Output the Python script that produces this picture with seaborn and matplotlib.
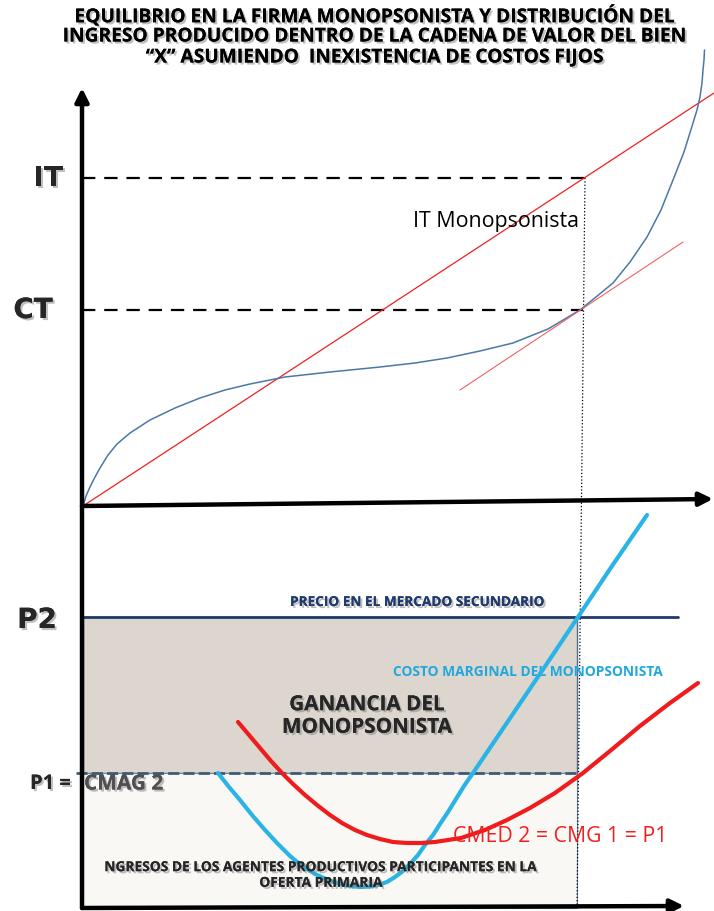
import matplotlib
matplotlib.use("Agg")
import matplotlib.pyplot as plt
import matplotlib.patheffects as pe
from matplotlib.patches import Rectangle
import seaborn as sns

# diagram, in picture units (x to the right, y downwards)
origin_x = 82
top_origin_y = 506
bottom_origin_y = 908
it_level = 178
ct_level = 310
q_star_top = 585
q_star_bottom = 577
p2_level = 617
p1_level = 773

# upper panel: total cost curve (IT Monopsonista) and revenue line
cost_x = [83, 86, 90, 95, 100, 108, 117, 130, 150, 175, 200, 225, 250, 285, 330, 380, 415, 447, 480,
          513, 548, 580, 596, 613, 630, 647, 661, 673, 684, 693, 697, 700, 702, 703, 704, 704.5]
cost_y = [506, 496, 487, 477, 468, 455, 444, 433, 420, 408, 398, 390, 384, 377, 372, 367, 363, 358, 351,
          343, 329, 310, 297, 283, 262, 237, 210, 180, 152, 123, 110, 97, 83, 70, 60, 50]
revenue_x = [83, 714]
revenue_y = [506, 93]
tangent_x = [460, 683]
tangent_y = [390, 242]

# lower panel: marginal cost and average cost curves
cmg_x = [218, 229, 240, 252, 265, 277, 290, 302, 315, 328, 340, 350, 360, 370, 378, 387, 395, 403, 410,
         418, 425, 433, 440, 448, 456, 464, 473, 498, 523, 550, 578, 612, 647]
cmg_y = [773, 787, 800, 815, 830, 843, 856, 866, 874, 880, 884, 886, 887, 886.5, 885, 882, 877, 871, 864,
         855, 845, 835, 824, 812, 799, 786, 773, 736, 699, 659, 617, 566, 515]
cmed_x = [238, 249, 260, 271, 282, 293, 305, 317, 330, 342, 355, 367, 380, 393, 407, 421, 435, 448, 461,
          473, 485, 496, 507, 530, 555, 583, 610, 640, 670, 698]
cmed_y = [722, 735, 748, 761, 773, 784, 795, 805, 815, 823, 830, 835, 839, 842, 843, 843, 842, 840, 838,
          834, 830, 825, 820, 808, 793, 773, 751, 726, 703, 683]

title_lines = [
    "EQUILIBRIO EN LA FIRMA MONOPSONISTA Y DISTRIBUCIÓN DEL",
    "INGRESO PRODUCIDO DENTRO DE LA CADENA DE VALOR DEL BIEN",
    "\u201cX\u201d ASUMIENDO  INEXISTENCIA DE COSTOS FIJOS",
]
title_y = [16.5, 36.5, 57.5]

sns.set_theme(style="white")
plt.rcParams["font.family"] = ["Open Sans", "DejaVu Sans"]

fig = plt.figure(figsize=(7.14, 9.11), dpi=100)
ax = fig.add_axes([0, 0, 1, 1])
ax.set_xlim(0, 714)
ax.set_ylim(911, 0)
ax.axis("off")

shadow = [pe.withSimplePatchShadow(offset=(1.5, -1.5), shadow_rgbFace="gray", alpha=0.5), pe.Normal()]

# shaded areas in the lower panel
ax.add_patch(Rectangle((origin_x + 1, p2_level), q_star_bottom - origin_x - 1, p1_level - p2_level,
                       facecolor="#ddd6ce", edgecolor="#4f6b8a", lw=1, zorder=1))
ax.add_patch(Rectangle((origin_x + 1, p1_level), q_star_bottom - origin_x - 1, bottom_origin_y - p1_level,
                       facecolor="#faf8f5", edgecolor="#6d86a3", lw=0.8, zorder=1))

# reference lines
ax.plot([origin_x, q_star_top], [it_level, it_level], color="black", lw=1.6, dashes=(6, 4), zorder=2)
ax.plot([origin_x, q_star_top - 2], [ct_level, ct_level], color="black", lw=1.6, dashes=(6, 4), zorder=2)
ax.plot([q_star_top, q_star_bottom], [it_level, bottom_origin_y], color="black", lw=0.9, ls=":", zorder=2)
ax.plot([origin_x, 678], [p2_level, p2_level], color="#1f3a6b", lw=2, zorder=2)
ax.plot([origin_x - 6, q_star_bottom], [p1_level, p1_level], color="#3f5a78", lw=2, dashes=(4, 1.5), zorder=2)

# curves
sns.lineplot(x=revenue_x, y=revenue_y, ax=ax, color="#f02020", lw=0.9, sort=False, estimator=None, zorder=3)
sns.lineplot(x=cost_x, y=cost_y, ax=ax, color="#4a78a8", lw=1.1, sort=False, estimator=None, zorder=3)
sns.lineplot(x=tangent_x, y=tangent_y, ax=ax, color="#f26060", lw=0.8, sort=False, estimator=None, zorder=3)
sns.lineplot(x=cmg_x, y=cmg_y, ax=ax, color="#2ab4e6", lw=3, sort=False, estimator=None, zorder=4)
sns.lineplot(x=cmed_x, y=cmed_y, ax=ax, color="#ee1c1c", lw=3, sort=False, estimator=None, zorder=4)

# axes with arrows
arrow = dict(arrowstyle="-|>", color="black", lw=3.2, mutation_scale=20, shrinkA=0, shrinkB=0)
ax.annotate("", xy=(origin_x, 88), xytext=(origin_x, bottom_origin_y), arrowprops=arrow, zorder=5)
ax.annotate("", xy=(713, 499), xytext=(origin_x, top_origin_y), arrowprops=arrow, zorder=5)
ax.annotate("", xy=(684, 906), xytext=(origin_x, bottom_origin_y), arrowprops=arrow, zorder=5)

# title
for line, y in zip(title_lines, title_y):
    ax.text(375, y, line, ha="center", va="center", fontsize=13.8,
            fontweight="bold", color="black", path_effects=shadow)

# axis labels
ax.text(48, it_level, "IT", ha="center", va="center", fontsize=20, fontweight="heavy",
        family=["DejaVu Sans"], path_effects=shadow)
ax.text(33, ct_level, "CT", ha="center", va="center", fontsize=20, fontweight="heavy",
        family=["DejaVu Sans"], path_effects=shadow)
ax.text(37, p2_level + 3, "P2", ha="center", va="center", fontsize=20, fontweight="heavy",
        family=["DejaVu Sans"], path_effects=shadow)
ax.text(71, 784, "P1 =", ha="right", va="center", fontsize=14.5, fontweight="bold", path_effects=shadow)
ax.text(84, 784, "CMAG 2", ha="left", va="center", fontsize=15, fontweight="bold", color="#505050",
        path_effects=shadow)

# annotations
ax.text(413, 222, "IT Monopsonista", ha="left", va="center", fontsize=15.4, color="black")
ax.text(417, 602, "PRECIO EN EL MERCADO SECUNDARIO", ha="center", va="center", fontsize=9.8,
        fontweight="bold", color="#1f3a6b", path_effects=shadow)
ax.text(528, 672, "COSTO MARGINAL DEL MONOPSONISTA", ha="center", va="center", fontsize=9.9,
        fontweight="bold", color="#1fa8dd", zorder=3)
ax.text(367, 716, "GANANCIA DEL\nMONOPSONISTA", ha="center", va="center", fontsize=14.9,
        fontweight="bold", linespacing=1.1, path_effects=shadow, zorder=3)
ax.text(453, 836, "CMED 2 = CMG 1 = P1", ha="left", va="center", fontsize=15.3, color="#f02020", zorder=5)
ax.text(321, 875, "NGRESOS DE LOS AGENTES PRODUCTIVOS PARTICIPANTES EN LA\nOFERTA PRIMARIA",
        ha="center", va="center", fontsize=9.9, fontweight="bold", linespacing=1.15,
        path_effects=shadow, zorder=5)

fig.savefig("out.png", dpi=100)
